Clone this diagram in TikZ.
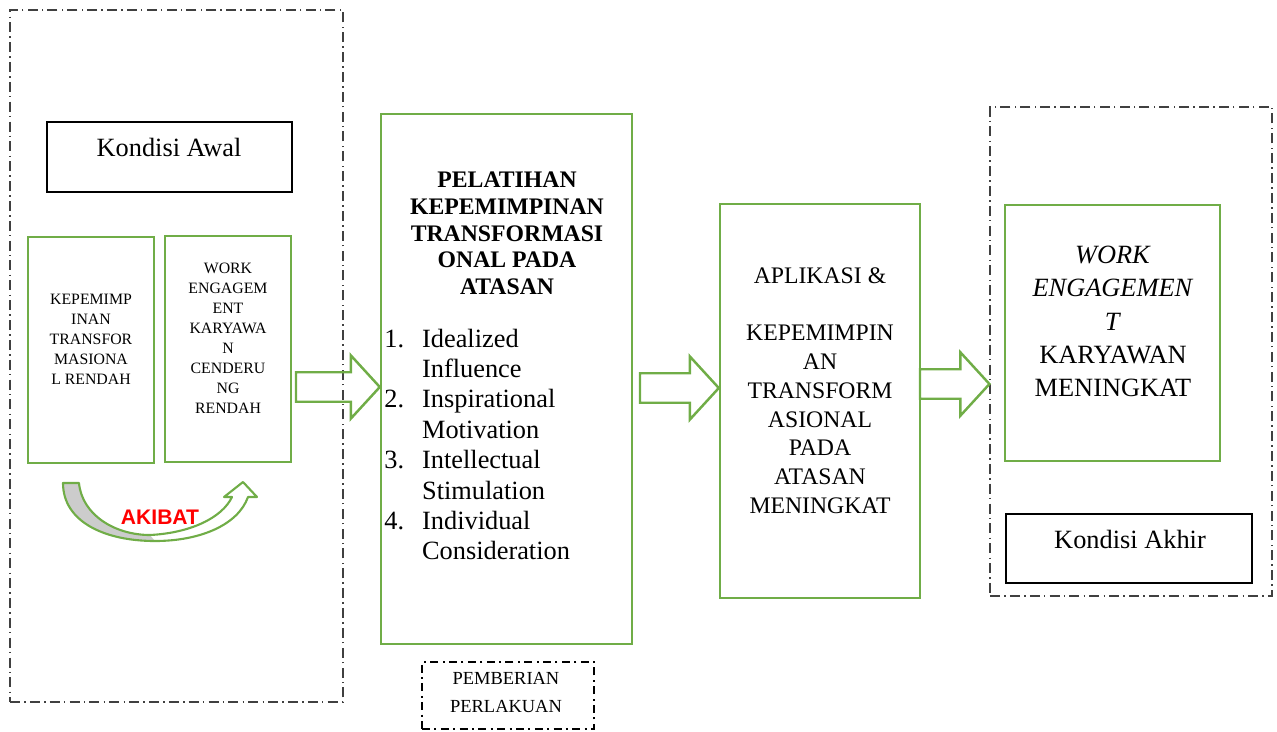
\documentclass[tikz,border=0pt]{standalone}
\usepackage{fontspec}
\setmainfont{Liberation Serif}
\newfontfamily\sansbold{Liberation Sans}
\usetikzlibrary{calc}

\definecolor{grn}{HTML}{70AD47}

\tikzset{
  frame/.style={draw=black!75, line width=0.7pt, dash pattern=on 5.7pt off 2.4pt on 0.8pt off 2.4pt},
  kondisi/.style={draw=black, line width=1.5pt},
  gbox/.style={draw=grn, line width=1.4pt},
  blockarrow/.style={draw=grn, line width=1.4pt, line join=miter},
}

\newcommand{\fatarrow}[2]{%
  \draw[blockarrow] let \p1=(#1), \p2=(#2) in
    (\x1,\y1+8.4pt) -- (\x2-16.5pt,\y1+8.4pt) -- (\x2-16.5pt,\y1+18pt) -- (\x2,\y1)
    -- (\x2-16.5pt,\y1-18pt) -- (\x2-16.5pt,\y1-8.4pt) -- (\x1,\y1-8.4pt) -- cycle;}

\begin{document}
\begin{tikzpicture}
\begin{scope}[x=0.02cm, y=-0.02cm]
\useasboundingbox (0,0) rectangle (1277,731);

% kondisi awal
\node[frame, minimum width=6.66cm, minimum height=13.84cm] (leftframe) at (176.5,356) {};
\node[kondisi, minimum width=4.9cm, minimum height=1.4cm] (awal) at (169.5,157) {};
\node[font=\fontsize{15}{18}\selectfont] (awaltxt) at (169,147.5) {Kondisi Awal};
\node[gbox, minimum width=2.52cm, minimum height=4.52cm] (kep) at (91,350) {};
\node[gbox, minimum width=2.52cm, minimum height=4.52cm] (wek) at (228,349) {};
\node[font=\fontsize{9}{11.3}\selectfont, align=center] (keptxt) at (91,339.5) {KEPEMIMP\\INAN\\TRANSFOR\\MASIONA\\L RENDAH};
\node[font=\fontsize{9}{11.4}\selectfont, align=center] (wektxt) at (228,338) {WORK\\ENGAGEM\\ENT\\KARYAWA\\N\\CENDERU\\NG\\RENDAH};

\fill[gray!40] (63,483) .. controls (63,522) and (105,541) .. (155,541) -- (150,535)
  .. controls (115,535) and (82,515) .. (79,483) -- cycle;
\draw[grn, line width=1.2pt, line join=round] (63,483) .. controls (63,522) and (105,541) .. (155,541)
  .. controls (200,541) and (238,525) .. (248,497) -- (257,497) -- (243,482) -- (224,497) -- (232,497)
  .. controls (222,518) and (190,533) .. (150,535) .. controls (115,535) and (82,515) .. (79,483) -- cycle;
\node[font=\sansbold\bfseries\fontsize{12}{14}\selectfont, text=red] (akibat) at (160,517.5) {AKIBAT};

% perlakuan
\node[gbox, minimum width=5.02cm, minimum height=10.6cm] (main) at (506.5,379) {};
\node[font=\fontsize{13.5}{15.2}\selectfont\bfseries, align=center] (judul) at (507,233.5) {PELATIHAN\\KEPEMIMPINAN\\TRANSFORMASI\\ONAL PADA\\ATASAN};
\node[font=\fontsize{15}{17.3}\selectfont, align=left, anchor=west, inner sep=0pt] (daftar) at (384,444.5)
  {\makebox[21.5pt][l]{1.}Idealized\\\hspace*{21.5pt}Influence\\
   \makebox[21.5pt][l]{2.}Inspirational\\\hspace*{21.5pt}Motivation\\
   \makebox[21.5pt][l]{3.}Intellectual\\\hspace*{21.5pt}Stimulation\\
   \makebox[21.5pt][l]{4.}Individual\\\hspace*{21.5pt}Consideration};
\node[draw, line width=1.5pt, dash pattern=on 4.5pt off 2.5pt on 1.2pt off 2.5pt,
  minimum width=3.44cm, minimum height=1.34cm] (perlakuan) at (508,695.5) {};
\node[font=\fontsize{10.5}{15.4}\selectfont, align=center] (perlakuantxt) at (506,692.5) {PEMBERIAN\\PERLAKUAN};

% aplikasi
\node[gbox, minimum width=4cm, minimum height=7.88cm] (aplikasi) at (820,401) {};
\node[font=\fontsize{13.5}{16.4}\selectfont, align=center] (aplikasitxt) at (820,390.5)
  {APLIKASI \&\\[16.4pt]KEPEMIMPIN\\AN\\TRANSFORM\\ASIONAL\\PADA\\ATASAN\\MENINGKAT};

% kondisi akhir
\node[frame, minimum width=5.64cm, minimum height=9.78cm] (rightframe) at (1131,351.5) {};
\node[gbox, minimum width=4.3cm, minimum height=5.12cm] (weup) at (1112.5,333) {};
\node[font=\fontsize{15}{19}\selectfont, align=center] (weuptxt) at (1113,321.5)
  {\textit{WORK}\\\textit{ENGAGEMEN}\\\textit{T}\\KARYAWAN\\MENINGKAT};
\node[kondisi, minimum width=4.92cm, minimum height=1.38cm] (akhir) at (1129,548.5) {};
\node[font=\fontsize{15}{18}\selectfont] (akhirtxt) at (1130,539.5) {Kondisi Akhir};

% panah
\coordinate (t1) at (296,387);
\coordinate (t2) at (640,388);
\coordinate (t3) at (920,384);
\fatarrow{t1}{main.west |- t1}
\fatarrow{t2}{aplikasi.west |- t2}
\fatarrow{t3}{rightframe.west |- t3}

\end{scope}
\end{tikzpicture}
\end{document}
